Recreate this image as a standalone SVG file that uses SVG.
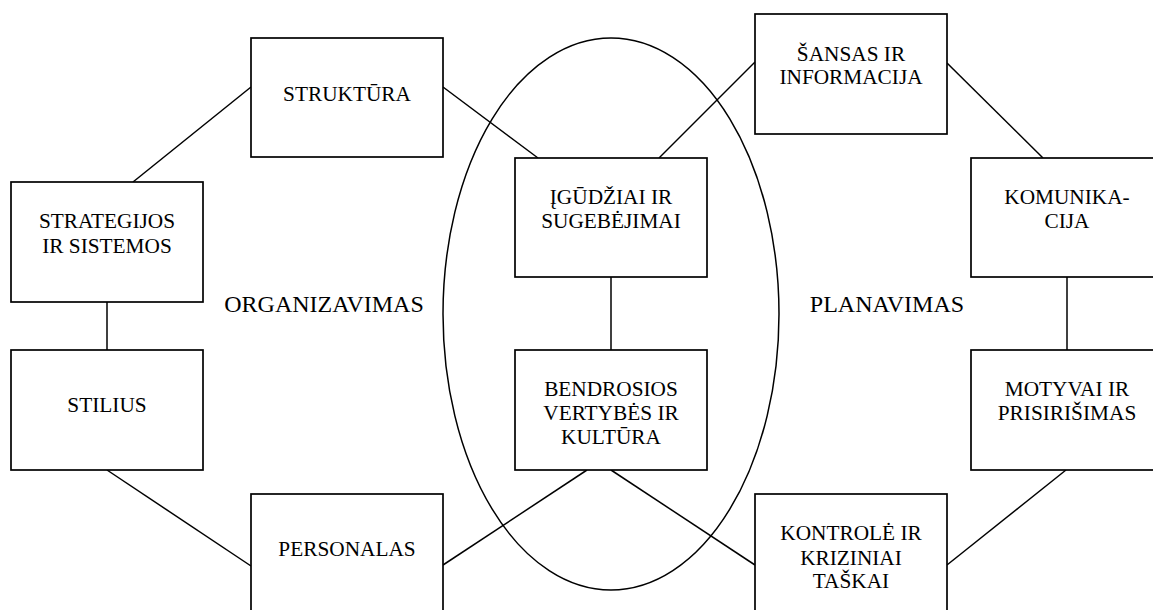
<svg xmlns="http://www.w3.org/2000/svg" width="1153" height="610" viewBox="0 0 1153 610" font-family="'Liberation Serif', 'Times New Roman', serif">
  <style>
    .box { fill: #ffffff; stroke: #000000; stroke-width: 1.7; }
    .link { fill: none; stroke: #000000; stroke-width: 1.5; }
    text.name { font-family: 'Liberation Serif', 'Times New Roman', serif; font-size: 21.3px; fill: #000000; text-anchor: middle; }
    text.area { font-family: 'Liberation Serif', 'Times New Roman', serif; font-size: 24px; fill: #000000; text-anchor: middle; }
  </style>
  <rect width="1153" height="610" fill="#ffffff"/>

  <!-- central ellipse -->
  <ellipse id="core" cx="611" cy="314" rx="168" ry="276" class="link"/>

  <!-- connectors -->
  <g id="connectors">
    <line class="link" x1="133" y1="182" x2="251" y2="87"/>
    <line class="link" x1="443" y1="87" x2="538" y2="158"/>
    <line class="link" x1="659" y1="158" x2="755" y2="62"/>
    <line class="link" x1="947" y1="63" x2="1043" y2="158"/>
    <line class="link" x1="1067" y1="277" x2="1067" y2="350"/>
    <line class="link" x1="1066" y1="470" x2="947" y2="565"/>
    <line class="link" x1="611" y1="470" x2="755" y2="565"/>
    <line class="link" x1="587" y1="470" x2="443" y2="565"/>
    <line class="link" x1="107" y1="470" x2="251" y2="566"/>
    <line class="link" x1="107" y1="302" x2="107" y2="350"/>
    <line class="link" x1="611" y1="277" x2="611" y2="350"/>
  </g>

  <!-- region labels -->
  <text id="organizavimas" class="area" x="324" y="312">ORGANIZAVIMAS</text>
  <text id="planavimas" class="area" x="887" y="312">PLANAVIMAS</text>

  <!-- nodes -->
  <g id="struktura">
    <rect class="box" x="251" y="38" width="192" height="119"/>
    <text class="name" x="347" y="101">STRUKTŪRA</text>
  </g>
  <g id="strategijos">
    <rect class="box" x="11" y="182" width="192" height="120"/>
    <text class="name" x="107" y="228">STRATEGIJOS</text>
    <text class="name" x="107" y="253">IR SISTEMOS</text>
  </g>
  <g id="stilius">
    <rect class="box" x="11" y="350" width="192" height="120"/>
    <text class="name" x="107" y="412">STILIUS</text>
  </g>
  <g id="personalas">
    <rect class="box" x="251" y="494" width="192" height="120"/>
    <text class="name" x="347" y="556">PERSONALAS</text>
  </g>
  <g id="igudziai">
    <rect class="box" x="515" y="158" width="192" height="119"/>
    <text class="name" x="611" y="204">ĮGŪDŽIAI IR</text>
    <text class="name" x="611" y="228">SUGEBĖJIMAI</text>
  </g>
  <g id="bendrosios">
    <rect class="box" x="515" y="350" width="192" height="120"/>
    <text class="name" x="611" y="396">BENDROSIOS</text>
    <text class="name" x="611" y="420">VERTYBĖS IR</text>
    <text class="name" x="611" y="444">KULTŪRA</text>
  </g>
  <g id="sansas">
    <rect class="box" x="755" y="14" width="192" height="120"/>
    <text class="name" x="851" y="61">ŠANSAS IR</text>
    <text class="name" x="851" y="84">INFORMACIJA</text>
  </g>
  <g id="komunikacija">
    <rect class="box" x="971" y="158" width="192" height="119"/>
    <text class="name" x="1067" y="204">KOMUNIKA-</text>
    <text class="name" x="1067" y="228">CIJA</text>
  </g>
  <g id="motyvai">
    <rect class="box" x="971" y="350" width="192" height="120"/>
    <text class="name" x="1067" y="396">MOTYVAI IR</text>
    <text class="name" x="1067" y="420">PRISIRIŠIMAS</text>
  </g>
  <g id="kontrole">
    <rect class="box" x="755" y="494" width="192" height="120"/>
    <text class="name" x="851" y="540">KONTROLĖ IR</text>
    <text class="name" x="851" y="565">KRIZINIAI</text>
    <text class="name" x="851" y="588">TAŠKAI</text>
  </g>
</svg>
